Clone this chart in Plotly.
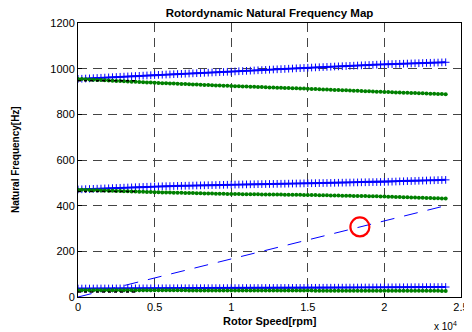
import plotly.graph_objects as go

# Rotor speed samples [rpm]
rpm = list(range(0, 24001, 250))

# Mode 3 (upper) forward (blue) / backward (green) whirl [Hz]
upper_fw = [955, 955.9, 956.7, 957.6, 958.4, 959.3, 960.1, 961.0, 961.8, 962.7, 963.5, 964.4, 965.2, 966.1, 966.9, 967.8, 968.6, 969.5, 970.3, 971.2, 972.0,
            972.8, 973.5, 974.3, 975.0, 975.8, 976.5, 977.3, 978.0, 978.8, 979.5, 980.3, 981.0, 981.8, 982.5, 983.3, 984.0, 984.8, 985.5, 986.3, 987.0,
            987.9, 988.7, 989.6, 990.4, 991.3, 992.1, 993.0, 993.8, 994.7, 995.5, 996.4, 997.2, 998.1, 998.9, 999.8, 1000.6, 1001.5, 1002.3, 1003.2, 1004.0,
            1004.8, 1005.5, 1006.3, 1007.0, 1007.8, 1008.5, 1009.3, 1010.0, 1010.8, 1011.5, 1012.3, 1013.0, 1013.8, 1014.5, 1015.3, 1016.0, 1016.8, 1017.5, 1018.3, 1019.0,
            1019.6, 1020.1, 1020.7, 1021.2, 1021.8, 1022.4, 1022.9, 1023.5, 1024.0, 1024.6, 1025.2, 1025.7, 1026.3, 1026.8, 1027.4, 1028.0]
upper_bw = [955, 954.2, 953.3, 952.5, 951.6, 950.8, 949.9, 949.1, 948.2, 947.4, 946.5, 945.7, 944.8, 944.0, 943.1, 942.3, 941.4, 940.6, 939.7, 938.9, 938.0,
            937.3, 936.6, 935.9, 935.2, 934.5, 933.8, 933.1, 932.4, 931.7, 931.0, 930.3, 929.6, 928.9, 928.2, 927.5, 926.8, 926.1, 925.4, 924.7, 924.0,
            923.4, 922.8, 922.2, 921.6, 921.0, 920.4, 919.8, 919.2, 918.6, 918.0, 917.4, 916.8, 916.2, 915.6, 915.0, 914.4, 913.8, 913.2, 912.6, 912.0,
            911.3, 910.6, 909.9, 909.2, 908.5, 907.8, 907.1, 906.4, 905.7, 905.0, 904.3, 903.6, 902.9, 902.2, 901.5, 900.8, 900.1, 899.4, 898.7, 898.0,
            897.4, 896.8, 896.1, 895.5, 894.9, 894.3, 893.6, 893.0, 892.4, 891.8, 891.1, 890.5, 889.9, 889.3, 888.6, 888.0]

# Mode 2 (middle)
mid_fw = [471, 471.7, 472.3, 473.0, 473.6, 474.3, 474.9, 475.6, 476.2, 476.9, 477.5, 478.2, 478.8, 479.5, 480.1, 480.8, 481.4, 482.1, 482.7, 483.4, 484.0,
          484.4, 484.8, 485.2, 485.6, 486.0, 486.4, 486.8, 487.2, 487.6, 488.0, 488.4, 488.8, 489.2, 489.6, 490.0, 490.4, 490.8, 491.2, 491.6, 492.0,
          492.3, 492.6, 492.9, 493.2, 493.5, 493.8, 494.1, 494.4, 494.7, 495.0, 495.3, 495.6, 495.9, 496.2, 496.5, 496.8, 497.1, 497.4, 497.7, 498.0,
          498.3, 498.6, 498.9, 499.2, 499.5, 499.8, 500.1, 500.4, 500.7, 501.0, 501.3, 501.6, 501.9, 502.2, 502.5, 502.8, 503.1, 503.4, 503.7, 504.0,
          504.6, 505.1, 505.7, 506.3, 506.8, 507.4, 507.9, 508.5, 509.1, 509.6, 510.2, 510.8, 511.3, 511.9, 512.4, 513.0]
mid_bw = [470, 469.5, 468.9, 468.4, 467.8, 467.3, 466.7, 466.2, 465.6, 465.1, 464.5, 464.0, 463.4, 462.9, 462.3, 461.8, 461.2, 460.7, 460.1, 459.6, 459.0,
          458.6, 458.2, 457.8, 457.4, 457.0, 456.6, 456.2, 455.8, 455.4, 455.0, 454.6, 454.2, 453.8, 453.4, 453.0, 452.6, 452.2, 451.8, 451.4, 451.0,
          450.8, 450.6, 450.4, 450.2, 450.0, 449.8, 449.6, 449.4, 449.2, 449.0, 448.8, 448.6, 448.4, 448.2, 448.0, 447.8, 447.6, 447.4, 447.2, 447.0,
          446.7, 446.3, 446.0, 445.6, 445.3, 444.9, 444.6, 444.2, 443.9, 443.5, 443.2, 442.8, 442.5, 442.1, 441.8, 441.4, 441.1, 440.7, 440.4, 440.0,
          439.4, 438.9, 438.3, 437.8, 437.2, 436.6, 436.1, 435.5, 434.9, 434.4, 433.8, 433.3, 432.7, 432.1, 431.6, 431.0]

# Mode 1 (lower)
low_fw = [37.0, 37.1, 37.1, 37.2, 37.2, 37.3, 37.3, 37.4, 37.4, 37.5,
          37.5, 37.6, 37.6, 37.7, 37.7, 37.8, 37.8, 37.9, 37.9, 38.0,
          38.0, 38.1, 38.1, 38.2, 38.2, 38.3, 38.3, 38.4, 38.4, 38.5,
          38.5, 38.6, 38.6, 38.7, 38.7, 38.8, 38.8, 38.9, 38.9, 39.0,
          39.0, 39.1, 39.1, 39.2, 39.2, 39.3, 39.3, 39.4, 39.4, 39.5,
          39.5, 39.6, 39.6, 39.7, 39.7, 39.8, 39.8, 39.9, 39.9, 40.0,
          40.1, 40.2, 40.3, 40.4, 40.5, 40.6, 40.7, 40.8, 40.9, 41.0,
          41.1, 41.2, 41.3, 41.4, 41.5, 41.6, 41.7, 41.8, 41.9, 42.0,
          42.1, 42.2, 42.3, 42.4, 42.5, 42.6, 42.7, 42.8, 42.9, 43.0,
          43.1, 43.2, 43.3, 43.4, 43.5, 43.6, 43.7]
low_bw = [30.0, 30.0, 29.9, 29.9, 29.9, 29.8, 29.8, 29.8, 29.7, 29.7,
          29.7, 29.6, 29.6, 29.6, 29.5, 29.5, 29.5, 29.4, 29.4, 29.4,
          29.3, 29.3, 29.3, 29.2, 29.2, 29.2, 29.1, 29.1, 29.1, 29.0,
          29.0, 29.0, 28.9, 28.9, 28.9, 28.8, 28.8, 28.8, 28.7, 28.7,
          28.7, 28.6, 28.6, 28.6, 28.5, 28.5, 28.5, 28.4, 28.4, 28.4,
          28.3, 28.3, 28.3, 28.2, 28.2, 28.2, 28.1, 28.1, 28.1, 28.0,
          28.0, 28.0, 27.9, 27.9, 27.9, 27.8, 27.8, 27.8, 27.7, 27.7,
          27.7, 27.6, 27.6, 27.6, 27.5, 27.5, 27.5, 27.4, 27.4, 27.4,
          27.3, 27.3, 27.3, 27.2, 27.2, 27.2, 27.1, 27.1, 27.1, 27.0,
          27.0, 27.0, 26.9, 26.9, 26.9, 26.8, 26.8]

# Short black dotted traces near the start of each mode
start_rpm = [0, 3750]
start_upper = [947, 947]
start_mid = [462, 462]
start_low = [22, 22]

# 1x synchronous excitation line
sync_rpm = [0, 24000]
sync_hz = [0, 400]

# Marked intersection
mark_rpm = [18400]
mark_hz = [307]

xtick_vals = [0, 5000, 10000, 15000, 20000, 25000]
xtick_text = ["0", "0.5", "1", "1.5", "2", "2.5"]
ytick_vals = [0, 200, 400, 600, 800, 1000, 1200]

BLUE = "#0000ff"
GREEN = "#008000"
FONT = "Arial, Liberation Sans, sans-serif"

fig = go.Figure()

fig.add_trace(go.Scatter(x=sync_rpm, y=sync_hz, mode="lines",
                         line=dict(color=BLUE, width=1, dash="14px,10px")))

for fw in (upper_fw, mid_fw, low_fw):
    fig.add_trace(go.Scatter(x=rpm, y=fw, mode="lines+markers",
                             line=dict(color=BLUE, width=2),
                             marker=dict(symbol="cross-thin", size=5.5,
                                         color=BLUE, line=dict(color=BLUE, width=1))))

for bw in (upper_bw, mid_bw, low_bw):
    fig.add_trace(go.Scatter(x=rpm, y=bw, mode="lines+markers",
                             line=dict(color=GREEN, width=1),
                             marker=dict(symbol="circle", size=4, color=GREEN)))

for sy in (start_upper, start_mid, start_low):
    fig.add_trace(go.Scatter(x=start_rpm, y=sy, mode="lines",
                             line=dict(color="black", width=1.5, dash="dot")))

fig.add_trace(go.Scatter(x=mark_rpm, y=mark_hz, mode="markers",
                         marker=dict(symbol="circle-open", size=19,
                                     color="red", line=dict(color="red", width=2.2))))

axis_common = dict(showline=True, linecolor="black", linewidth=1, mirror=True,
                   showgrid=True, gridcolor="#444444", gridwidth=1, griddash="9px,6px",
                   ticks="inside", ticklen=4, tickcolor="black",
                   tickfont=dict(family=FONT, size=11, color="black"),
                   zeroline=False, automargin=False)

# The page body adds an 8px offset, so the figure is 8px smaller than the window
fig.update_layout(
    width=464, height=324,
    margin=dict(l=70, r=11, t=15, b=35, autoexpand=False),
    paper_bgcolor="white", plot_bgcolor="white",
    showlegend=False,
    font=dict(family=FONT, color="black"),
    title=dict(text="<b>Rotordynamic Natural Frequency Map</b>",
               x=0.5, xref="paper", y=1 - 4.5 / 324, yref="container",
               xanchor="center", yanchor="middle",
               font=dict(size=11.5, color="black")),
    xaxis=dict(range=[0, 25000], tickvals=xtick_vals, ticktext=xtick_text, **axis_common),
    yaxis=dict(range=[0, 1200], tickvals=ytick_vals, **axis_common),
)

fig.add_annotation(text="<b>Rotor Speed[rpm]</b>", xref="paper", yref="paper",
                   x=0.5, y=0, xanchor="center", yanchor="middle", yshift=-24,
                   showarrow=False, font=dict(family=FONT, size=11, color="black"))
fig.add_annotation(text="<b>Natural Frequency[Hz]</b>", xref="paper", yref="paper",
                   x=0, y=0.5, xanchor="center", yanchor="middle", xshift=-63,
                   textangle=-90, showarrow=False,
                   font=dict(family=FONT, size=10, color="black"))
fig.add_annotation(text="x 10<sup>4</sup>", xref="paper", yref="paper",
                   x=1.0, y=0, xanchor="right", yanchor="middle", yshift=-29, xshift=-2,
                   showarrow=False, font=dict(family=FONT, size=10, color="black"))

fig.write_html("out.html")
